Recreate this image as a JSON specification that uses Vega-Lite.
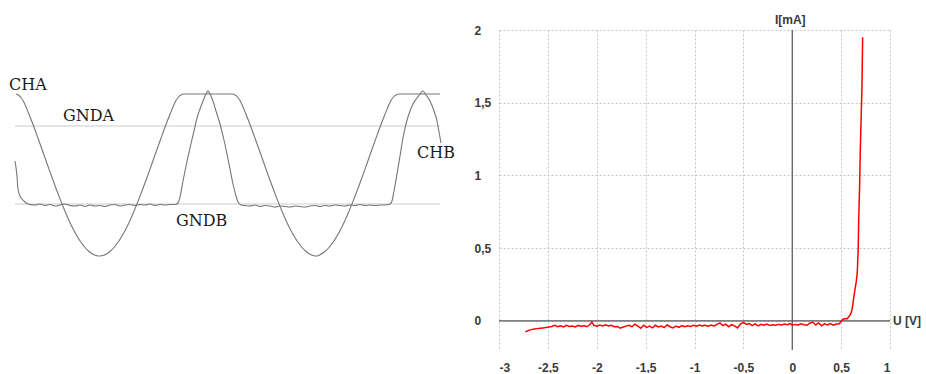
{
  "$schema": "https://vega.github.io/schema/vega-lite/v6.json",
  "background": "white",
  "padding": {"left": 8, "top": 14, "right": 0, "bottom": 0},
  "spacing": 7,
  "config": {
    "view": {"stroke": null},
    "axisX": {"grid": true, "gridColor": "#c4c4c4", "gridDash": [2, 2], "domain": false, "ticks": false, "tickSize": 0, "labelPadding": 12, "labelFont": "Liberation Sans", "labelFontSize": 12, "labelFontWeight": "bold", "labelColor": "#3a3a3a", "labelBaseline": "top"},
    "axisY": {"grid": true, "gridColor": "#c4c4c4", "gridDash": [2, 2], "domain": false, "ticks": false, "tickSize": 0, "labelPadding": 25, "labelAlign": "left", "labelBaseline": "middle", "labelFont": "Liberation Sans", "labelFontSize": 12, "labelFontWeight": "bold", "labelColor": "#3a3a3a", "minExtent": 30, "maxExtent": 30}
  },
  "datasets": {
    "gnd": [
      {"name": "GNDA", "t": 15, "v": 78}, {"name": "GNDA", "t": 440, "v": 78},
      {"name": "GNDB", "t": 15, "v": 0}, {"name": "GNDB", "t": 440, "v": 0}
    ],
    "traces": [
      {"ch": "CHA", "t": 16, "v": 110}, {"ch": "CHA", "t": 19, "v": 108.5}, {"ch": "CHA", "t": 21, "v": 106.5}, {"ch": "CHA", "t": 23, "v": 103.5},
      {"ch": "CHA", "t": 25, "v": 99.5}, {"ch": "CHA", "t": 29, "v": 89.7}, {"ch": "CHA", "t": 33, "v": 79.5}, {"ch": "CHA", "t": 37, "v": 68.6},
      {"ch": "CHA", "t": 41, "v": 57.5}, {"ch": "CHA", "t": 45, "v": 46.2}, {"ch": "CHA", "t": 49, "v": 34.9}, {"ch": "CHA", "t": 53, "v": 23.8},
      {"ch": "CHA", "t": 57, "v": 13}, {"ch": "CHA", "t": 61, "v": 2.6}, {"ch": "CHA", "t": 65, "v": -7.2}, {"ch": "CHA", "t": 69, "v": -16.4},
      {"ch": "CHA", "t": 73, "v": -24.7}, {"ch": "CHA", "t": 77, "v": -32}, {"ch": "CHA", "t": 81, "v": -38.3}, {"ch": "CHA", "t": 85, "v": -43.5},
      {"ch": "CHA", "t": 89, "v": -47.5}, {"ch": "CHA", "t": 93, "v": -50.3}, {"ch": "CHA", "t": 97, "v": -51.8}, {"ch": "CHA", "t": 99.5, "v": -52},
      {"ch": "CHA", "t": 104, "v": -51.2}, {"ch": "CHA", "t": 110, "v": -47.5}, {"ch": "CHA", "t": 114, "v": -43.5}, {"ch": "CHA", "t": 118, "v": -38.3},
      {"ch": "CHA", "t": 122, "v": -32}, {"ch": "CHA", "t": 126, "v": -24.7}, {"ch": "CHA", "t": 130, "v": -16.4}, {"ch": "CHA", "t": 134, "v": -7.2},
      {"ch": "CHA", "t": 138, "v": 2.6}, {"ch": "CHA", "t": 142, "v": 13}, {"ch": "CHA", "t": 146, "v": 23.8}, {"ch": "CHA", "t": 150, "v": 34.9},
      {"ch": "CHA", "t": 154, "v": 46.2}, {"ch": "CHA", "t": 158, "v": 57.5}, {"ch": "CHA", "t": 162, "v": 68.6}, {"ch": "CHA", "t": 166, "v": 79.5},
      {"ch": "CHA", "t": 170, "v": 89.7}, {"ch": "CHA", "t": 174, "v": 99.5}, {"ch": "CHA", "t": 176, "v": 103.5}, {"ch": "CHA", "t": 178, "v": 106.5},
      {"ch": "CHA", "t": 181, "v": 109}, {"ch": "CHA", "t": 184, "v": 110}, {"ch": "CHA", "t": 232, "v": 110}, {"ch": "CHA", "t": 235, "v": 109},
      {"ch": "CHA", "t": 238, "v": 106.5}, {"ch": "CHA", "t": 240, "v": 103.5}, {"ch": "CHA", "t": 242, "v": 99.5}, {"ch": "CHA", "t": 246, "v": 89.7},
      {"ch": "CHA", "t": 250, "v": 79.5}, {"ch": "CHA", "t": 254, "v": 68.6}, {"ch": "CHA", "t": 258, "v": 57.5}, {"ch": "CHA", "t": 262, "v": 46.2},
      {"ch": "CHA", "t": 266, "v": 34.9}, {"ch": "CHA", "t": 270, "v": 23.8}, {"ch": "CHA", "t": 274, "v": 13}, {"ch": "CHA", "t": 278, "v": 2.6},
      {"ch": "CHA", "t": 282, "v": -7.2}, {"ch": "CHA", "t": 286, "v": -16.4}, {"ch": "CHA", "t": 290, "v": -24.7}, {"ch": "CHA", "t": 294, "v": -32},
      {"ch": "CHA", "t": 298, "v": -38.3}, {"ch": "CHA", "t": 302, "v": -43.5}, {"ch": "CHA", "t": 306, "v": -47.5}, {"ch": "CHA", "t": 310, "v": -50.3},
      {"ch": "CHA", "t": 314, "v": -51.8}, {"ch": "CHA", "t": 316.5, "v": -52}, {"ch": "CHA", "t": 319, "v": -51.2}, {"ch": "CHA", "t": 325, "v": -47.5},
      {"ch": "CHA", "t": 329, "v": -43.5}, {"ch": "CHA", "t": 333, "v": -38.3}, {"ch": "CHA", "t": 337, "v": -32}, {"ch": "CHA", "t": 341, "v": -24.7},
      {"ch": "CHA", "t": 345, "v": -16.4}, {"ch": "CHA", "t": 349, "v": -7.2}, {"ch": "CHA", "t": 353, "v": 2.6}, {"ch": "CHA", "t": 357, "v": 13},
      {"ch": "CHA", "t": 361, "v": 23.8}, {"ch": "CHA", "t": 365, "v": 34.9}, {"ch": "CHA", "t": 369, "v": 46.2}, {"ch": "CHA", "t": 373, "v": 57.5},
      {"ch": "CHA", "t": 377, "v": 68.6}, {"ch": "CHA", "t": 381, "v": 79.5}, {"ch": "CHA", "t": 385, "v": 89.7}, {"ch": "CHA", "t": 389, "v": 99.5},
      {"ch": "CHA", "t": 391, "v": 103.5}, {"ch": "CHA", "t": 393, "v": 106.5}, {"ch": "CHA", "t": 396, "v": 109}, {"ch": "CHA", "t": 399, "v": 110},
      {"ch": "CHA", "t": 440, "v": 110},
      {"ch": "CHB", "t": 15, "v": 43}, {"ch": "CHB", "t": 17, "v": 28}, {"ch": "CHB", "t": 18, "v": 15}, {"ch": "CHB", "t": 20, "v": 8},
      {"ch": "CHB", "t": 22, "v": 5}, {"ch": "CHB", "t": 25, "v": 2}, {"ch": "CHB", "t": 27, "v": 0.5}, {"ch": "CHB", "t": 30, "v": -0.5},
      {"ch": "CHB", "t": 35, "v": -1}, {"ch": "CHB", "t": 40, "v": 0}, {"ch": "CHB", "t": 45, "v": -1.5}, {"ch": "CHB", "t": 50, "v": -0.5},
      {"ch": "CHB", "t": 55, "v": -2}, {"ch": "CHB", "t": 60, "v": -1}, {"ch": "CHB", "t": 65, "v": 0}, {"ch": "CHB", "t": 70, "v": -1.5},
      {"ch": "CHB", "t": 75, "v": -2}, {"ch": "CHB", "t": 80, "v": -1}, {"ch": "CHB", "t": 85, "v": -2.5}, {"ch": "CHB", "t": 90, "v": -1},
      {"ch": "CHB", "t": 95, "v": -2}, {"ch": "CHB", "t": 100, "v": -1.5}, {"ch": "CHB", "t": 105, "v": -2.5}, {"ch": "CHB", "t": 110, "v": -1},
      {"ch": "CHB", "t": 115, "v": -0.5}, {"ch": "CHB", "t": 120, "v": -2}, {"ch": "CHB", "t": 125, "v": -1}, {"ch": "CHB", "t": 130, "v": -0.5},
      {"ch": "CHB", "t": 135, "v": -1.5}, {"ch": "CHB", "t": 140, "v": -0.5}, {"ch": "CHB", "t": 145, "v": -1}, {"ch": "CHB", "t": 150, "v": 0},
      {"ch": "CHB", "t": 155, "v": -1.5}, {"ch": "CHB", "t": 160, "v": -0.5}, {"ch": "CHB", "t": 165, "v": -1}, {"ch": "CHB", "t": 170, "v": -0.5},
      {"ch": "CHB", "t": 175, "v": -0.5}, {"ch": "CHB", "t": 178, "v": 1}, {"ch": "CHB", "t": 180, "v": 7}, {"ch": "CHB", "t": 183, "v": 23},
      {"ch": "CHB", "t": 186, "v": 38}, {"ch": "CHB", "t": 190, "v": 56}, {"ch": "CHB", "t": 194, "v": 73}, {"ch": "CHB", "t": 197, "v": 86},
      {"ch": "CHB", "t": 200, "v": 95}, {"ch": "CHB", "t": 203, "v": 103}, {"ch": "CHB", "t": 206, "v": 110}, {"ch": "CHB", "t": 208, "v": 113},
      {"ch": "CHB", "t": 210, "v": 110}, {"ch": "CHB", "t": 213, "v": 103}, {"ch": "CHB", "t": 216, "v": 93}, {"ch": "CHB", "t": 220, "v": 80},
      {"ch": "CHB", "t": 224, "v": 64}, {"ch": "CHB", "t": 227, "v": 50}, {"ch": "CHB", "t": 230, "v": 35}, {"ch": "CHB", "t": 233, "v": 20},
      {"ch": "CHB", "t": 236, "v": 8}, {"ch": "CHB", "t": 238, "v": 2}, {"ch": "CHB", "t": 241, "v": -1}, {"ch": "CHB", "t": 245, "v": -1.5},
      {"ch": "CHB", "t": 250, "v": -2}, {"ch": "CHB", "t": 255, "v": -1}, {"ch": "CHB", "t": 260, "v": -2.5}, {"ch": "CHB", "t": 265, "v": -1.5},
      {"ch": "CHB", "t": 270, "v": -2}, {"ch": "CHB", "t": 275, "v": -3}, {"ch": "CHB", "t": 280, "v": -2}, {"ch": "CHB", "t": 285, "v": -2.5},
      {"ch": "CHB", "t": 290, "v": -3}, {"ch": "CHB", "t": 295, "v": -2}, {"ch": "CHB", "t": 300, "v": -2.5}, {"ch": "CHB", "t": 305, "v": -3},
      {"ch": "CHB", "t": 310, "v": -2}, {"ch": "CHB", "t": 315, "v": -1.5}, {"ch": "CHB", "t": 320, "v": -2.5}, {"ch": "CHB", "t": 325, "v": -1.5},
      {"ch": "CHB", "t": 330, "v": -2}, {"ch": "CHB", "t": 335, "v": -1}, {"ch": "CHB", "t": 340, "v": -1.5}, {"ch": "CHB", "t": 345, "v": -2},
      {"ch": "CHB", "t": 350, "v": -1}, {"ch": "CHB", "t": 355, "v": -1.5}, {"ch": "CHB", "t": 360, "v": -0.5}, {"ch": "CHB", "t": 365, "v": -1.5},
      {"ch": "CHB", "t": 370, "v": -1}, {"ch": "CHB", "t": 375, "v": -1.5}, {"ch": "CHB", "t": 380, "v": -1}, {"ch": "CHB", "t": 385, "v": -1},
      {"ch": "CHB", "t": 390, "v": 0}, {"ch": "CHB", "t": 392, "v": 3}, {"ch": "CHB", "t": 394, "v": 13}, {"ch": "CHB", "t": 397, "v": 30},
      {"ch": "CHB", "t": 400, "v": 48}, {"ch": "CHB", "t": 403, "v": 66}, {"ch": "CHB", "t": 406, "v": 80}, {"ch": "CHB", "t": 410, "v": 93},
      {"ch": "CHB", "t": 413, "v": 100}, {"ch": "CHB", "t": 417, "v": 106}, {"ch": "CHB", "t": 420, "v": 110}, {"ch": "CHB", "t": 423, "v": 113},
      {"ch": "CHB", "t": 426, "v": 109}, {"ch": "CHB", "t": 430, "v": 103}, {"ch": "CHB", "t": 434, "v": 93}, {"ch": "CHB", "t": 437, "v": 83},
      {"ch": "CHB", "t": 439, "v": 72}, {"ch": "CHB", "t": 441, "v": 61}
    ],
    "tracelabels": [
      {"t": 9, "v": 119, "label": "CHA"},
      {"t": 63, "v": 88, "label": "GNDA"},
      {"t": 417, "v": 51, "label": "CHB"},
      {"t": 176, "v": -17, "label": "GNDB"}
    ],
    "diode": [
      {"u": -2.73, "i": -0.075}, {"u": -2.7, "i": -0.066}, {"u": -2.67, "i": -0.06}, {"u": -2.64, "i": -0.056}, {"u": -2.61, "i": -0.053},
      {"u": -2.58, "i": -0.05}, {"u": -2.55, "i": -0.048}, {"u": -2.52, "i": -0.046}, {"u": -2.49, "i": -0.042}, {"u": -2.46, "i": -0.038},
      {"u": -2.43, "i": -0.03}, {"u": -2.4, "i": -0.04}, {"u": -2.37, "i": -0.034}, {"u": -2.34, "i": -0.042}, {"u": -2.31, "i": -0.03},
      {"u": -2.28, "i": -0.038}, {"u": -2.25, "i": -0.035}, {"u": -2.22, "i": -0.041}, {"u": -2.19, "i": -0.031}, {"u": -2.16, "i": -0.037},
      {"u": -2.13, "i": -0.033}, {"u": -2.1, "i": -0.04}, {"u": -2.07, "i": -0.025}, {"u": -2.05, "i": -0.008}, {"u": -2.03, "i": -0.03},
      {"u": -2.0, "i": -0.036}, {"u": -1.97, "i": -0.028}, {"u": -1.94, "i": -0.034}, {"u": -1.91, "i": -0.026}, {"u": -1.88, "i": -0.035},
      {"u": -1.85, "i": -0.03}, {"u": -1.82, "i": -0.04}, {"u": -1.79, "i": -0.038}, {"u": -1.76, "i": -0.05}, {"u": -1.73, "i": -0.042},
      {"u": -1.7, "i": -0.036}, {"u": -1.67, "i": -0.03}, {"u": -1.64, "i": -0.04}, {"u": -1.61, "i": -0.022}, {"u": -1.58, "i": -0.036},
      {"u": -1.55, "i": -0.05}, {"u": -1.52, "i": -0.03}, {"u": -1.49, "i": -0.045}, {"u": -1.46, "i": -0.036}, {"u": -1.43, "i": -0.048},
      {"u": -1.4, "i": -0.03}, {"u": -1.37, "i": -0.042}, {"u": -1.34, "i": -0.035}, {"u": -1.31, "i": -0.046}, {"u": -1.28, "i": -0.028},
      {"u": -1.25, "i": -0.04}, {"u": -1.22, "i": -0.048}, {"u": -1.19, "i": -0.036}, {"u": -1.16, "i": -0.044}, {"u": -1.13, "i": -0.032},
      {"u": -1.1, "i": -0.04}, {"u": -1.07, "i": -0.034}, {"u": -1.04, "i": -0.038}, {"u": -1.01, "i": -0.03}, {"u": -0.98, "i": -0.036},
      {"u": -0.95, "i": -0.028}, {"u": -0.92, "i": -0.034}, {"u": -0.89, "i": -0.03}, {"u": -0.86, "i": -0.036}, {"u": -0.83, "i": -0.028},
      {"u": -0.8, "i": -0.034}, {"u": -0.77, "i": -0.024}, {"u": -0.74, "i": -0.014}, {"u": -0.71, "i": -0.032}, {"u": -0.68, "i": -0.022},
      {"u": -0.65, "i": -0.04}, {"u": -0.62, "i": -0.026}, {"u": -0.59, "i": -0.034}, {"u": -0.56, "i": -0.048}, {"u": -0.53, "i": -0.022},
      {"u": -0.5, "i": -0.01}, {"u": -0.47, "i": -0.024}, {"u": -0.44, "i": -0.018}, {"u": -0.41, "i": -0.032}, {"u": -0.38, "i": -0.02},
      {"u": -0.35, "i": -0.034}, {"u": -0.32, "i": -0.024}, {"u": -0.29, "i": -0.03}, {"u": -0.26, "i": -0.022}, {"u": -0.23, "i": -0.032},
      {"u": -0.2, "i": -0.026}, {"u": -0.17, "i": -0.03}, {"u": -0.14, "i": -0.024}, {"u": -0.11, "i": -0.028}, {"u": -0.08, "i": -0.022},
      {"u": -0.05, "i": -0.026}, {"u": -0.02, "i": -0.018}, {"u": 0.0, "i": -0.03}, {"u": 0.03, "i": -0.024}, {"u": 0.06, "i": -0.028},
      {"u": 0.09, "i": -0.02}, {"u": 0.12, "i": -0.026}, {"u": 0.15, "i": -0.03}, {"u": 0.18, "i": -0.016}, {"u": 0.21, "i": -0.008},
      {"u": 0.24, "i": -0.028}, {"u": 0.27, "i": -0.014}, {"u": 0.3, "i": -0.034}, {"u": 0.33, "i": -0.02}, {"u": 0.36, "i": -0.028},
      {"u": 0.39, "i": -0.018}, {"u": 0.42, "i": -0.03}, {"u": 0.45, "i": -0.022}, {"u": 0.48, "i": -0.02}, {"u": 0.5, "i": -0.004},
      {"u": 0.52, "i": 0.012}, {"u": 0.54, "i": 0.016}, {"u": 0.56, "i": 0.014}, {"u": 0.58, "i": 0.03}, {"u": 0.6, "i": 0.05},
      {"u": 0.615, "i": 0.09}, {"u": 0.625, "i": 0.14}, {"u": 0.64, "i": 0.21}, {"u": 0.655, "i": 0.27}, {"u": 0.665, "i": 0.33},
      {"u": 0.675, "i": 0.5}, {"u": 0.68, "i": 0.7}, {"u": 0.69, "i": 0.95}, {"u": 0.696, "i": 1.17}, {"u": 0.705, "i": 1.4},
      {"u": 0.713, "i": 1.6}, {"u": 0.72, "i": 1.95}
    ],
    "axislabels": [
      {"u": 0, "i": 2, "label": "I[mA]"}
    ],
    "axislabels2": [
      {"u": 1, "i": 0, "label": "U [V]"}
    ]
  },
  "hconcat": [
    {
      "width": 454,
      "height": 320,
      "layer": [
        {
          "data": {"name": "gnd"},
          "mark": {"type": "line", "color": "#cccccc", "strokeWidth": 1},
          "encoding": {
            "x": {"field": "t", "type": "quantitative", "scale": {"domain": [8, 462], "nice": false, "zero": false}, "axis": null},
            "y": {"field": "v", "type": "quantitative", "scale": {"domain": [-146, 174], "nice": false, "zero": false}, "axis": null},
            "detail": {"field": "name"}
          }
        },
        {
          "data": {"name": "traces"},
          "mark": {"type": "line", "color": "#767676", "strokeWidth": 1.1, "interpolate": "monotone"},
          "encoding": {
            "x": {"field": "t", "type": "quantitative", "scale": {"domain": [8, 462], "nice": false, "zero": false}, "axis": null},
            "y": {"field": "v", "type": "quantitative", "scale": {"domain": [-146, 174], "nice": false, "zero": false}, "axis": null},
            "detail": {"field": "ch"}
          }
        },
        {
          "data": {"name": "tracelabels"},
          "mark": {"type": "text", "align": "left", "baseline": "middle", "font": "DejaVu Serif", "fontSize": 16, "color": "#1a1a1a"},
          "encoding": {
            "x": {"field": "t", "type": "quantitative", "scale": {"domain": [8, 462], "nice": false, "zero": false}, "axis": null},
            "y": {"field": "v", "type": "quantitative", "scale": {"domain": [-146, 174], "nice": false, "zero": false}, "axis": null},
            "text": {"field": "label"}
          }
        }
      ]
    },
    {
      "width": 391,
      "height": 320,
      "layer": [
        {
          "data": {"values": [{"u": 0}]},
          "mark": {"type": "rule", "color": "#555555", "strokeWidth": 1.2},
          "encoding": {
            "x": {"field": "u", "type": "quantitative", "scale": {"domain": [-3, 1], "nice": false, "zero": false},
                  "axis": {"title": null, "values": [-3, -2.5, -2, -1.5, -1, -0.5, 0, 0.5, 1], "format": "~g", "labelExpr": "replace(replace(datum.label, '.', ','), '−', '-')"}}
          }
        },
        {
          "data": {"values": [{"i": 0}]},
          "mark": {"type": "rule", "color": "#555555", "strokeWidth": 1.2},
          "encoding": {
            "y": {"field": "i", "type": "quantitative", "scale": {"domain": [-0.2, 2], "nice": false, "zero": false},
                  "axis": {"title": null, "values": [0, 0.5, 1, 1.5, 2], "format": "~g", "labelExpr": "replace(replace(datum.label, '.', ','), '−', '-')"}}
          }
        },
        {
          "data": {"name": "diode"},
          "mark": {"type": "line", "color": "#ff0000", "strokeWidth": 1.5},
          "encoding": {
            "x": {"field": "u", "type": "quantitative", "scale": {"domain": [-3, 1], "nice": false, "zero": false}},
            "y": {"field": "i", "type": "quantitative", "scale": {"domain": [-0.2, 2], "nice": false, "zero": false}}
          }
        },
        {
          "data": {"name": "axislabels"},
          "mark": {"type": "text", "align": "center", "baseline": "bottom", "dy": -3, "dx": -2, "font": "Liberation Sans", "fontSize": 12, "fontWeight": "bold", "color": "#3a3a3a"},
          "encoding": {
            "x": {"field": "u", "type": "quantitative", "scale": {"domain": [-3, 1], "nice": false, "zero": false}},
            "y": {"field": "i", "type": "quantitative", "scale": {"domain": [-0.2, 2], "nice": false, "zero": false}},
            "text": {"field": "label"}
          }
        },
        {
          "data": {"name": "axislabels2"},
          "mark": {"type": "text", "align": "left", "baseline": "middle", "dx": 3, "font": "Liberation Sans", "fontSize": 12, "fontWeight": "bold", "color": "#3a3a3a"},
          "encoding": {
            "x": {"field": "u", "type": "quantitative", "scale": {"domain": [-3, 1], "nice": false, "zero": false}},
            "y": {"field": "i", "type": "quantitative", "scale": {"domain": [-0.2, 2], "nice": false, "zero": false}},
            "text": {"field": "label"}
          }
        }
      ]
    }
  ]
}
